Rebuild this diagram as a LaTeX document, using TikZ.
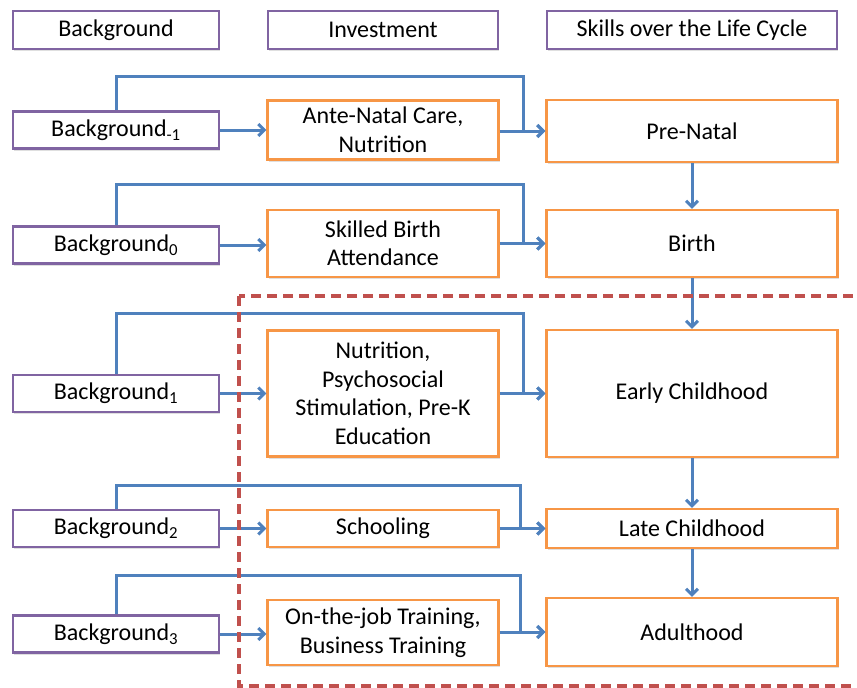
\documentclass[tikz,border=0pt]{standalone}
\usepackage{fontspec}
\setmainfont{Carlito}
\usetikzlibrary{arrows.meta,shadows}
\definecolor{bgpurple}{RGB}{128,100,162}
\definecolor{invorange}{RGB}{247,150,70}
\definecolor{linkblue}{RGB}{79,129,189}
\definecolor{dashred}{RGB}{192,80,77}
\tikzstyle{box}=[draw,fill=white,line width=2.2pt,inner sep=0pt,align=center,
                 drop shadow={shadow xshift=1pt,shadow yshift=-2pt,opacity=0.25}]
\tikzstyle{bgstate}=[box,draw=bgpurple,minimum width=206pt,minimum height=37pt]
\tikzstyle{invstate}=[box,draw=invorange,minimum width=231pt]
\tikzstyle{skillstate}=[box,draw=invorange,minimum width=291pt]
\tikzstyle{link}=[-{Straight Barb[length=6pt,width=12pt,line width=3pt]},
                  line width=3pt,draw=linkblue]

\begin{document}
\begin{tikzpicture}[x=1pt,y=-1pt,font=\fontsize{24}{28.5}\selectfont]
  \useasboundingbox (0,0) rectangle (857,688);

  % header
  \node[bgstate,minimum height=38pt] (hbg) at (116,30) {Background};
  \node[bgstate,minimum width=230pt,minimum height=38pt] (hinv) at (383,30) {Investment};
  \node[bgstate,minimum width=290pt,minimum height=38pt] (hskl) at (692,30) {Skills over the Life Cycle};

  % backgrounds
  \node[bgstate] (bgm1) at (116,130) {Background\textsubscript{-1}};
  \node[bgstate] (bg0) at (116,245) {Background\textsubscript{0}};
  \node[bgstate] (bg1) at (116,393.5) {Background\textsubscript{1}};
  \node[bgstate] (bg2) at (116,528.5) {Background\textsubscript{2}};
  \node[bgstate] (bg3) at (116,634) {Background\textsubscript{3}};

  % investments
  \node[invstate,minimum height=59pt] (antenatal) at (383,130) {Ante-Natal Care,\\Nutrition};
  \node[invstate,minimum height=67pt] (skilled) at (383,243.5) {Skilled Birth\\Attendance};
  \node[invstate,minimum height=126pt] (nutrition) at (383,393.5) {Nutrition,\\Psychosocial\\Stimulation, Pre-K\\Education};
  \node[invstate,minimum height=37pt] (schooling) at (383,528.5) {Schooling};
  \node[invstate,minimum height=65pt] (training) at (383,632.5) {On-the-job Training,\\Business Training};

  % skills
  \node[skillstate,minimum height=62pt] (prenatal) at (692,131) {Pre-Natal};
  \node[skillstate,minimum height=67pt] (birth) at (692,243.5) {Birth};
  \node[skillstate,minimum height=127pt] (early) at (692,393.5) {Early Childhood};
  \node[skillstate,minimum height=39pt] (late) at (692,528.5) {Late Childhood};
  \node[skillstate,minimum height=68pt] (adult) at (692,632) {Adulthood};

  % turning points of the long links
  \coordinate (tm1) at (523,76);
  \coordinate (t0) at (523,184);
  \coordinate (t1) at (523,313);
  \coordinate (t2) at (520,485);
  \coordinate (t3) at (520,575);

  % background -> investment -> skill
  \draw[link] (bgm1) -- (antenatal);
  \draw[link] (antenatal.east |- prenatal.west) -- (prenatal.west);
  \draw[link] (bg0.east) -- (bg0.east -| skilled.west);
  \draw[link] (skilled.east |- birth.west) -- (birth.west);
  \draw[link] (bg1) -- (nutrition);
  \draw[link] (nutrition) -- (early);
  \draw[link] (bg2) -- (schooling);
  \draw[link] (schooling) -- (late);
  \draw[link] (bg3.east) -- (bg3.east -| training.west);
  \draw[link] (training.east |- adult.west) -- (adult.west);

  % background -> skill
  \draw[link] (bgm1.north) |- (tm1) |- (prenatal.west);
  \draw[link] (bg0.north) |- (t0) |- (birth.west);
  \draw[link] (bg1.north) |- (t1) |- (early.west);
  \draw[link] (bg2.north) |- (t2) |- (late.west);
  \draw[link] (bg3.north) |- (t3) |- (adult.west);

  % skill -> skill
  \draw[link] (prenatal) -- (birth);
  \draw[link] (birth) -- (early);
  \draw[link] (early) -- (late);
  \draw[link] (late) -- (adult);

  % dashed frame
  \draw[dashred,line width=3.5pt,dash pattern=on 10pt off 6pt] (239,296) rectangle (900,686);
\end{tikzpicture}
\end{document}
